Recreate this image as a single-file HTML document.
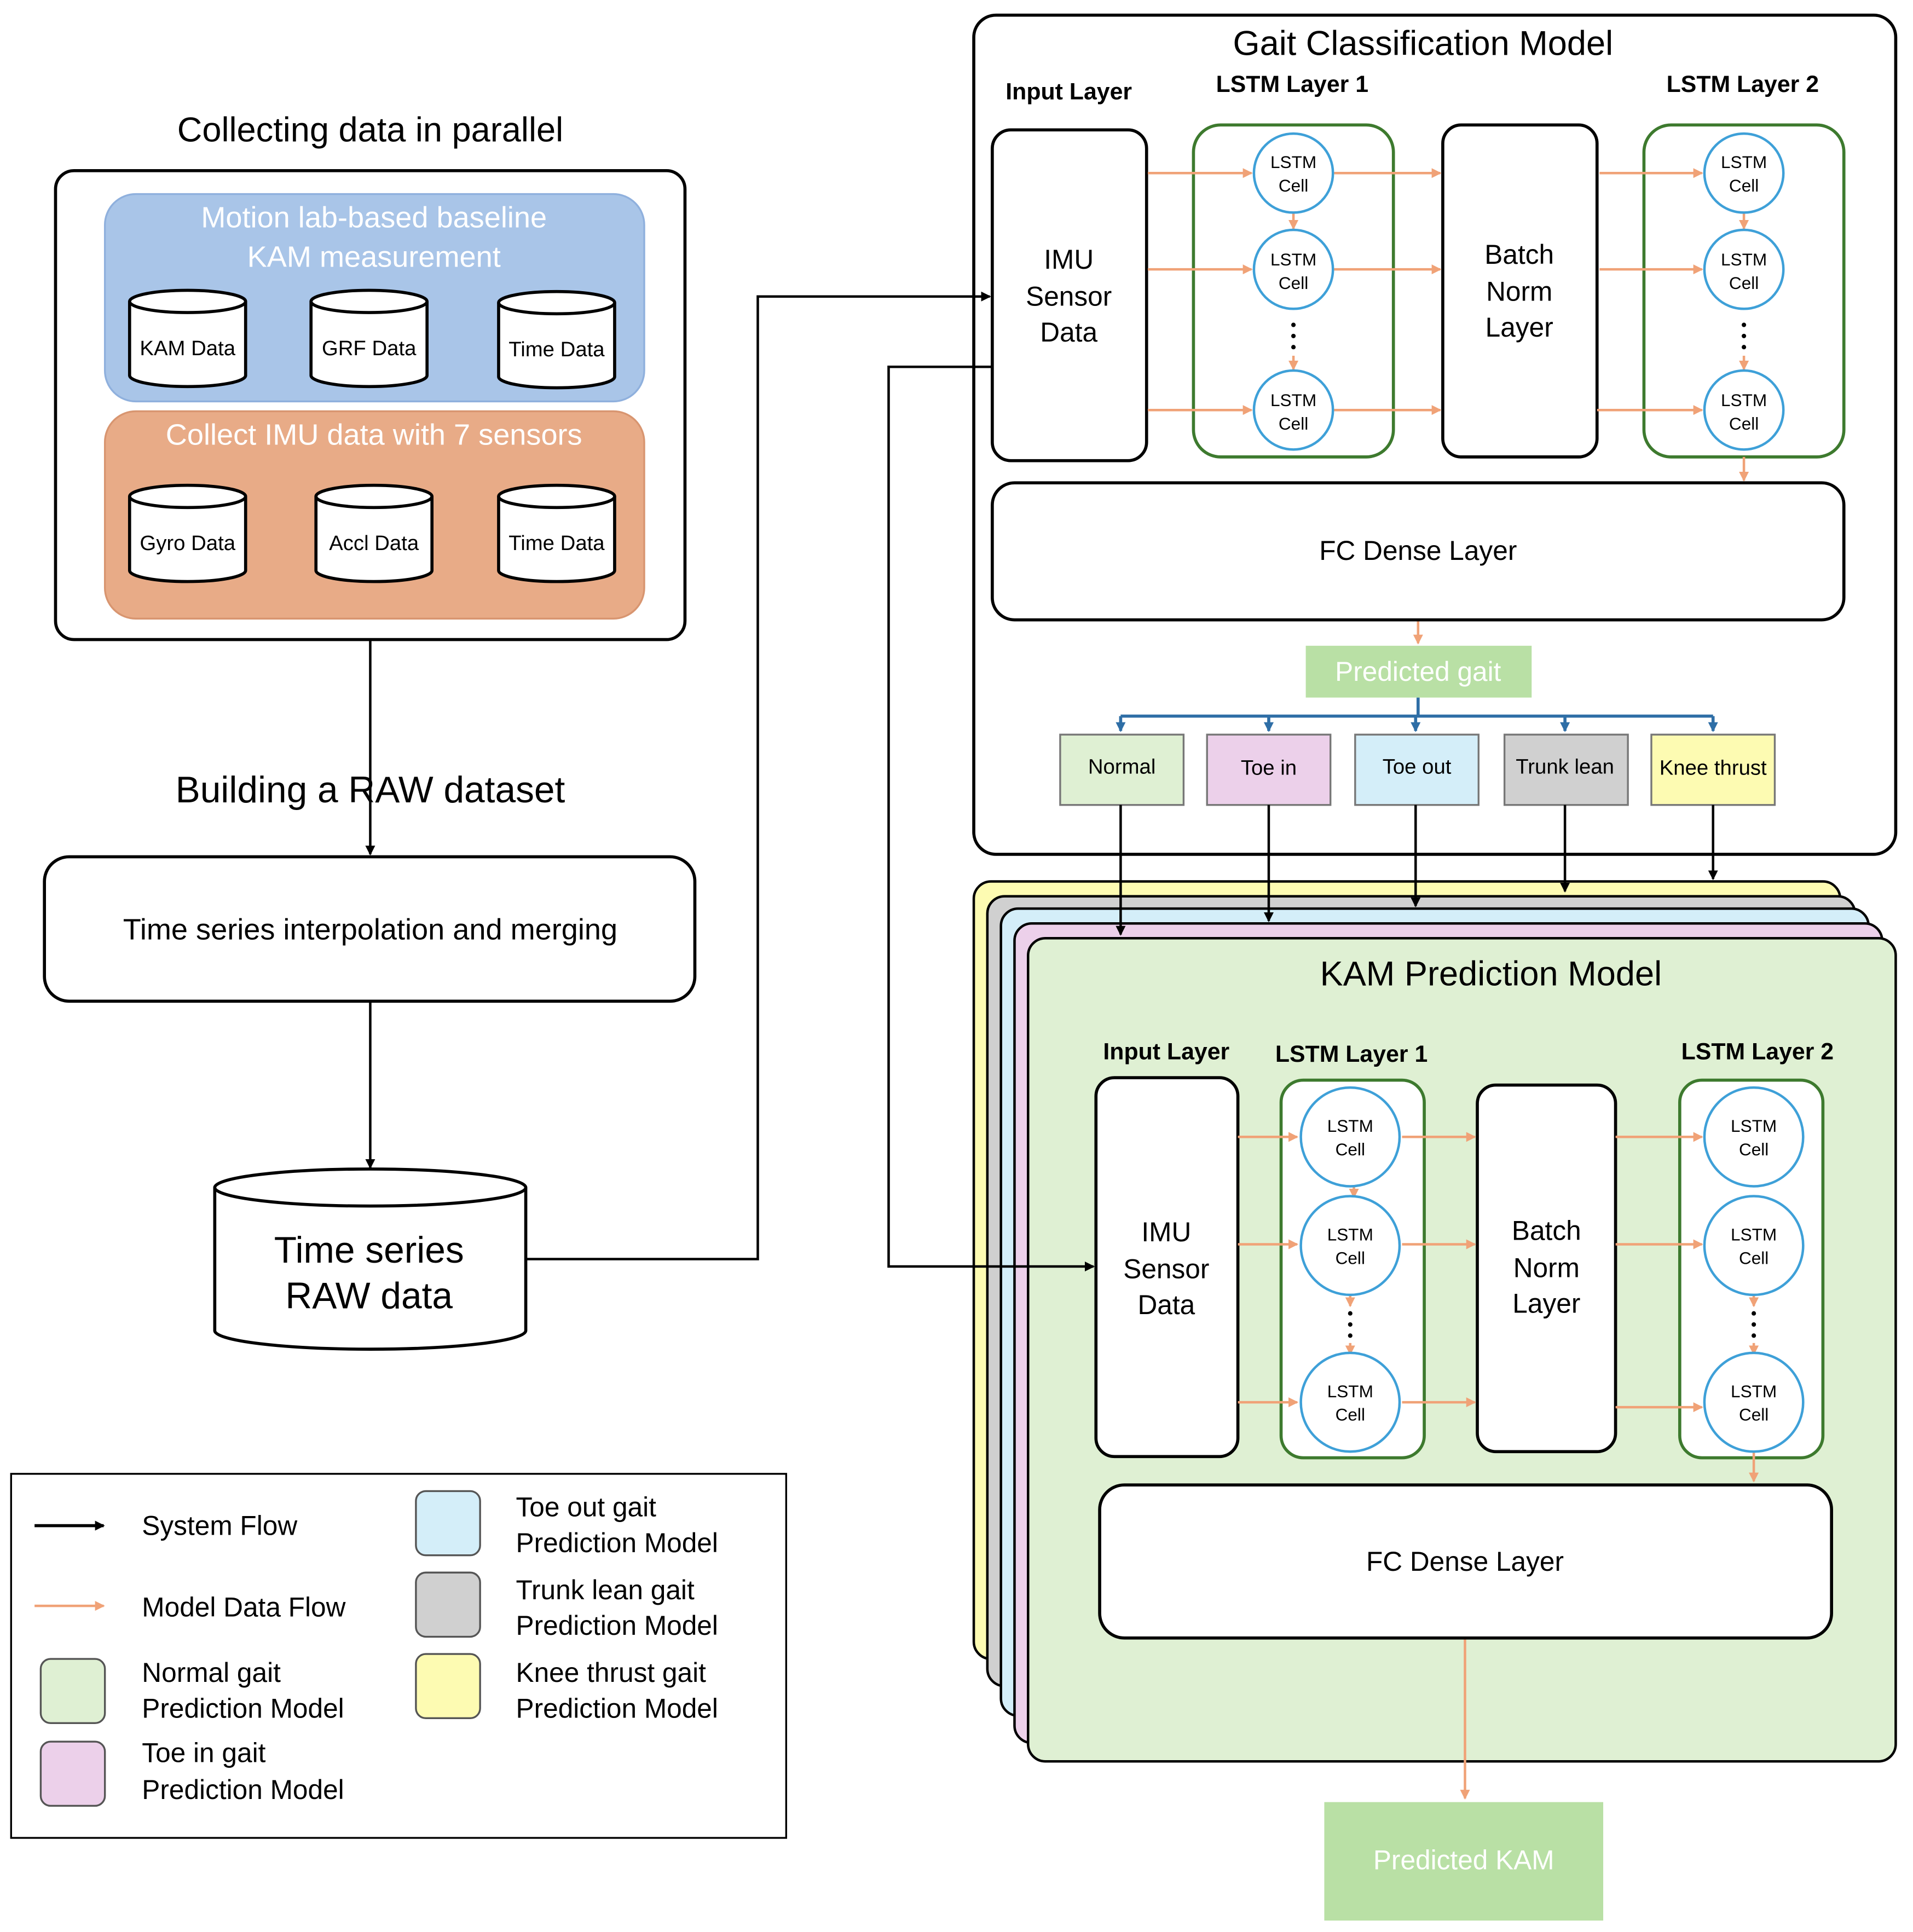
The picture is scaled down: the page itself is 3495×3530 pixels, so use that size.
<!DOCTYPE html>
<html><head><meta charset="utf-8"><style>
html,body{margin:0;padding:0;background:#fff}
svg{display:block}
text{font-family:"Liberation Sans",sans-serif;text-anchor:middle;dominant-baseline:central}
</style></head><body>
<svg width="3495" height="3530" viewBox="0 0 1550 1565" xmlns="http://www.w3.org/2000/svg">
<defs>
<marker id="ab" markerWidth="8" markerHeight="8" refX="7" refY="4" orient="auto" markerUnits="userSpaceOnUse"><path d="M0,0 L8,4 L0,8 z" fill="#000"/></marker>
<marker id="ao" markerWidth="8" markerHeight="8" refX="7" refY="4" orient="auto" markerUnits="userSpaceOnUse"><path d="M0,0 L8,4 L0,8 z" fill="#f0a277"/></marker>
<marker id="abl" markerWidth="8" markerHeight="8" refX="7" refY="4" orient="auto" markerUnits="userSpaceOnUse"><path d="M0,0 L8,4 L0,8 z" fill="#2e6ea6"/></marker>
<g id="cyl"><path d="M-47,-30 L-47,30 A47,9 0 0 0 47,30 L47,-30" fill="#fff" stroke="#000" stroke-width="2.5"/><ellipse cx="0" cy="-30" rx="47" ry="9" fill="#fff" stroke="#000" stroke-width="2.5"/></g>
</defs>

<!-- Left -->
<text x="300" y="105" font-size="28">Collecting data in parallel</text>
<rect x="45" y="138" width="510" height="380" rx="15" fill="#fff" stroke="#000" stroke-width="2.5"/>
<rect x="85" y="157" width="437" height="168" rx="25" fill="#a9c5e8" stroke="#8fb0dd" stroke-width="1.5"/>
<text x="303" y="176" font-size="24" fill="#fff">Motion lab-based baseline</text>
<text x="303" y="208" font-size="24" fill="#fff">KAM measurement</text>
<use href="#cyl" x="152" y="274"/><text x="152" y="282" font-size="17">KAM Data</text>
<use href="#cyl" x="299" y="274"/><text x="299" y="282" font-size="17">GRF Data</text>
<use href="#cyl" x="451" y="275"/><text x="451" y="283" font-size="17">Time Data</text>
<rect x="85" y="333" width="437" height="168" rx="25" fill="#e8ab87" stroke="#d89570" stroke-width="1.5"/>
<text x="303" y="352" font-size="24" fill="#fff">Collect IMU data with 7 sensors</text>
<use href="#cyl" x="152" y="432"/><text x="152" y="440" font-size="17">Gyro Data</text>
<use href="#cyl" x="303" y="432"/><text x="303" y="440" font-size="17">Accl Data</text>
<use href="#cyl" x="451" y="432"/><text x="451" y="440" font-size="17">Time Data</text>

<line x1="300" y1="518" x2="300" y2="692" stroke="#000" stroke-width="2" marker-end="url(#ab)"/>
<text x="300" y="640" font-size="30">Building a RAW dataset</text>
<rect x="36" y="694" width="527" height="117" rx="20" fill="#fff" stroke="#000" stroke-width="2.5"/>
<text x="300" y="753" font-size="24">Time series interpolation and merging</text>
<line x1="300" y1="811" x2="300" y2="946" stroke="#000" stroke-width="2" marker-end="url(#ab)"/>
<path d="M174,962 L174,1078 A126,15 0 0 0 426,1078 L426,962" fill="#fff" stroke="#000" stroke-width="2.5"/>
<ellipse cx="300" cy="962" rx="126" ry="15" fill="#fff" stroke="#000" stroke-width="2.5"/>
<text x="299" y="1013" font-size="30">Time series</text>
<text x="299" y="1050" font-size="30">RAW data</text>

<!-- Legend -->
<rect x="9" y="1194" width="628" height="295" fill="#fff" stroke="#000" stroke-width="1.5"/>
<line x1="28" y1="1236" x2="84" y2="1236" stroke="#000" stroke-width="2.5" marker-end="url(#ab)"/>
<text x="115" y="1236" font-size="22" style="text-anchor:start">System Flow</text>
<line x1="28" y1="1301" x2="84" y2="1301" stroke="#f0a277" stroke-width="2" marker-end="url(#ao)"/>
<text x="115" y="1302" font-size="22" style="text-anchor:start">Model Data Flow</text>
<rect x="33" y="1344" width="52" height="52" rx="8" fill="#dff0d3" stroke="#555" stroke-width="1.5"/>
<text x="115" y="1355" font-size="22" style="text-anchor:start">Normal gait</text>
<text x="115" y="1384" font-size="22" style="text-anchor:start">Prediction Model</text>
<rect x="33" y="1411" width="52" height="52" rx="8" fill="#ecd0ea" stroke="#555" stroke-width="1.5"/>
<text x="115" y="1420" font-size="22" style="text-anchor:start">Toe in gait</text>
<text x="115" y="1450" font-size="22" style="text-anchor:start">Prediction Model</text>
<rect x="337" y="1208" width="52" height="52" rx="8" fill="#d4eef9" stroke="#555" stroke-width="1.5"/>
<text x="418" y="1221" font-size="22" style="text-anchor:start">Toe out gait</text>
<text x="418" y="1250" font-size="22" style="text-anchor:start">Prediction Model</text>
<rect x="337" y="1274" width="52" height="52" rx="8" fill="#d0d0d0" stroke="#555" stroke-width="1.5"/>
<text x="418" y="1288" font-size="22" style="text-anchor:start">Trunk lean gait</text>
<text x="418" y="1317" font-size="22" style="text-anchor:start">Prediction Model</text>
<rect x="337" y="1340" width="52" height="52" rx="8" fill="#fdfbb2" stroke="#555" stroke-width="1.5"/>
<text x="418" y="1355" font-size="22" style="text-anchor:start">Knee thrust gait</text>
<text x="418" y="1384" font-size="22" style="text-anchor:start">Prediction Model</text>

<!-- Gait classification -->
<rect x="789" y="12" width="747" height="680" rx="18" fill="#fff" stroke="#000" stroke-width="2.5"/>
<text x="1153" y="35" font-size="28">Gait Classification Model</text>
<text x="866" y="74" font-size="19" font-weight="bold">Input Layer</text>
<text x="1047" y="68" font-size="19" font-weight="bold">LSTM Layer 1</text>
<text x="1412" y="68" font-size="19" font-weight="bold">LSTM Layer 2</text>
<rect x="804" y="105" width="125" height="268" rx="15" fill="#fff" stroke="#000" stroke-width="2.5"/>
<text x="866" y="210" font-size="22">IMU</text><text x="866" y="240" font-size="22">Sensor</text><text x="866" y="269" font-size="22">Data</text>
<rect x="967" y="101" width="162" height="269" rx="22" fill="#fff" stroke="#3d7a2e" stroke-width="2.5"/>
<rect x="1169" y="101" width="125" height="269" rx="15" fill="#fff" stroke="#000" stroke-width="2.5"/>
<text x="1231" y="206" font-size="22">Batch</text><text x="1231" y="236" font-size="22">Norm</text><text x="1231" y="265" font-size="22">Layer</text>
<rect x="1332" y="101" width="162" height="269" rx="22" fill="#fff" stroke="#3d7a2e" stroke-width="2.5"/>
<g stroke="#f0a277" stroke-width="2" fill="none">
<line x1="930" y1="140" x2="1014" y2="140" marker-end="url(#ao)"/><line x1="930" y1="218" x2="1014" y2="218" marker-end="url(#ao)"/><line x1="930" y1="332" x2="1014" y2="332" marker-end="url(#ao)"/>
<line x1="1081" y1="140" x2="1167" y2="140" marker-end="url(#ao)"/><line x1="1081" y1="218" x2="1167" y2="218" marker-end="url(#ao)"/><line x1="1081" y1="332" x2="1167" y2="332" marker-end="url(#ao)"/>
<line x1="1296" y1="140" x2="1379" y2="140" marker-end="url(#ao)"/><line x1="1296" y1="218" x2="1379" y2="218" marker-end="url(#ao)"/><line x1="1294" y1="332" x2="1379" y2="332" marker-end="url(#ao)"/>
<line x1="1048" y1="172" x2="1048" y2="185" marker-end="url(#ao)"/><line x1="1413" y1="172" x2="1413" y2="185" marker-end="url(#ao)"/>
<line x1="1048" y1="288" x2="1048" y2="299" marker-end="url(#ao)"/><line x1="1413" y1="288" x2="1413" y2="299" marker-end="url(#ao)"/>
<line x1="1413" y1="370" x2="1413" y2="389" marker-end="url(#ao)"/><line x1="1149" y1="503" x2="1149" y2="521" marker-end="url(#ao)"/>
</g>
<g fill="#fff" stroke="#3ea0d8" stroke-width="2">
<circle cx="1048" cy="140" r="32"/><circle cx="1048" cy="218" r="32"/><circle cx="1048" cy="332" r="32"/>
<circle cx="1413" cy="140" r="32"/><circle cx="1413" cy="218" r="32"/><circle cx="1413" cy="332" r="32"/>
</g>
<g font-size="14">
<text x="1048" y="131">LSTM</text><text x="1048" y="150">Cell</text><text x="1048" y="210">LSTM</text><text x="1048" y="229">Cell</text><text x="1048" y="324">LSTM</text><text x="1048" y="343">Cell</text>
<text x="1413" y="131">LSTM</text><text x="1413" y="150">Cell</text><text x="1413" y="210">LSTM</text><text x="1413" y="229">Cell</text><text x="1413" y="324">LSTM</text><text x="1413" y="343">Cell</text>
</g>
<g fill="#000"><circle cx="1048" cy="263" r="1.8"/><circle cx="1048" cy="272" r="1.8"/><circle cx="1048" cy="281" r="1.8"/><circle cx="1413" cy="263" r="1.8"/><circle cx="1413" cy="272" r="1.8"/><circle cx="1413" cy="281" r="1.8"/></g>
<rect x="804" y="391" width="690" height="111" rx="18" fill="#fff" stroke="#000" stroke-width="2.5"/>
<text x="1149" y="446" font-size="22">FC Dense Layer</text>
<rect x="1058" y="523" width="183" height="42" fill="#b9e0a5"/>
<text x="1149" y="544" font-size="22" fill="#fff">Predicted gait</text>
<g stroke="#2e6ea6" stroke-width="2.5" fill="none">
<line x1="1149" y1="565" x2="1149" y2="580"/><line x1="908" y1="580" x2="1388" y2="580"/>
<line x1="908" y1="580" x2="908" y2="592" marker-end="url(#abl)"/><line x1="1028" y1="580" x2="1028" y2="592" marker-end="url(#abl)"/><line x1="1147" y1="580" x2="1147" y2="592" marker-end="url(#abl)"/><line x1="1268" y1="580" x2="1268" y2="592" marker-end="url(#abl)"/><line x1="1388" y1="580" x2="1388" y2="592" marker-end="url(#abl)"/>
</g>
<g stroke="#777" stroke-width="1.5">
<rect x="859" y="595" width="100" height="57" fill="#dff0d3"/><rect x="978" y="595" width="100" height="57" fill="#ecd0ea"/><rect x="1098" y="595" width="100" height="57" fill="#d4eef9"/><rect x="1219" y="595" width="100" height="57" fill="#d0d0d0"/><rect x="1338" y="595" width="100" height="57" fill="#fdfbb2"/>
</g>
<g font-size="17"><text x="909" y="621">Normal</text><text x="1028" y="622">Toe in</text><text x="1148" y="621">Toe out</text><text x="1268" y="621">Trunk lean</text><text x="1388" y="622">Knee thrust</text></g>

<!-- Stacked KAM models -->
<rect x="789" y="714" width="702" height="630" rx="14" fill="#fdfbb2" stroke="#000" stroke-width="2"/>
<rect x="800" y="726" width="703" height="640" rx="14" fill="#d0d0d0" stroke="#000" stroke-width="2"/>
<rect x="811" y="736" width="703" height="654" rx="14" fill="#d4eef9" stroke="#000" stroke-width="2"/>
<rect x="822" y="748" width="703" height="664" rx="14" fill="#ecd0ea" stroke="#000" stroke-width="2"/>
<rect x="833" y="760" width="703" height="667" rx="14" fill="#dff0d3" stroke="#000" stroke-width="2"/>
<g stroke="#000" stroke-width="2">
<line x1="908" y1="652" x2="908" y2="757" marker-end="url(#ab)"/><line x1="1028" y1="652" x2="1028" y2="746" marker-end="url(#ab)"/><line x1="1147" y1="652" x2="1147" y2="734" marker-end="url(#ab)"/><line x1="1268" y1="652" x2="1268" y2="722" marker-end="url(#ab)"/><line x1="1388" y1="652" x2="1388" y2="712" marker-end="url(#ab)"/>
</g>
<text x="1208" y="789" font-size="28">KAM Prediction Model</text>
<text x="945" y="852" font-size="19" font-weight="bold">Input Layer</text>
<text x="1095" y="854" font-size="19" font-weight="bold">LSTM Layer 1</text>
<text x="1424" y="852" font-size="19" font-weight="bold">LSTM Layer 2</text>
<rect x="888" y="873" width="115" height="307" rx="15" fill="#fff" stroke="#000" stroke-width="2.5"/>
<text x="945" y="998" font-size="22">IMU</text><text x="945" y="1028" font-size="22">Sensor</text><text x="945" y="1057" font-size="22">Data</text>
<rect x="1038" y="875" width="116" height="306" rx="18" fill="#fff" stroke="#3d7a2e" stroke-width="2.5"/>
<rect x="1197" y="879" width="112" height="297" rx="15" fill="#fff" stroke="#000" stroke-width="2.5"/>
<text x="1253" y="997" font-size="22">Batch</text><text x="1253" y="1027" font-size="22">Norm</text><text x="1253" y="1056" font-size="22">Layer</text>
<rect x="1361" y="875" width="116" height="306" rx="18" fill="#fff" stroke="#3d7a2e" stroke-width="2.5"/>
<g stroke="#f0a277" stroke-width="2" fill="none">
<line x1="1003" y1="921" x2="1051" y2="921" marker-end="url(#ao)"/><line x1="1003" y1="1008" x2="1051" y2="1008" marker-end="url(#ao)"/><line x1="1003" y1="1136" x2="1051" y2="1136" marker-end="url(#ao)"/>
<line x1="1136" y1="921" x2="1195" y2="921" marker-end="url(#ao)"/><line x1="1136" y1="1008" x2="1195" y2="1008" marker-end="url(#ao)"/><line x1="1136" y1="1136" x2="1195" y2="1136" marker-end="url(#ao)"/>
<line x1="1309" y1="921" x2="1379" y2="921" marker-end="url(#ao)"/><line x1="1309" y1="1008" x2="1379" y2="1008" marker-end="url(#ao)"/><line x1="1309" y1="1140" x2="1379" y2="1140" marker-end="url(#ao)"/>
<line x1="1097" y1="960" x2="1097" y2="970" marker-end="url(#ao)"/>
<line x1="1094" y1="1049" x2="1094" y2="1058" marker-end="url(#ao)"/><line x1="1094" y1="1088" x2="1094" y2="1097" marker-end="url(#ao)"/>
<line x1="1421" y1="1049" x2="1421" y2="1058" marker-end="url(#ao)"/><line x1="1421" y1="1088" x2="1421" y2="1097" marker-end="url(#ao)"/>
<line x1="1421" y1="1177" x2="1421" y2="1200" marker-end="url(#ao)"/><line x1="1187" y1="1327" x2="1187" y2="1457" marker-end="url(#ao)"/>
</g>
<g fill="#fff" stroke="#3ea0d8" stroke-width="2">
<circle cx="1094" cy="921" r="40"/><circle cx="1094" cy="1009" r="40"/><circle cx="1094" cy="1136" r="40"/>
<circle cx="1421" cy="921" r="40"/><circle cx="1421" cy="1009" r="40"/><circle cx="1421" cy="1136" r="40"/>
</g>
<g font-size="14">
<text x="1094" y="912">LSTM</text><text x="1094" y="931">Cell</text><text x="1094" y="1000">LSTM</text><text x="1094" y="1019">Cell</text><text x="1094" y="1127">LSTM</text><text x="1094" y="1146">Cell</text>
<text x="1421" y="912">LSTM</text><text x="1421" y="931">Cell</text><text x="1421" y="1000">LSTM</text><text x="1421" y="1019">Cell</text><text x="1421" y="1127">LSTM</text><text x="1421" y="1146">Cell</text>
</g>
<g fill="#000"><circle cx="1094" cy="1064" r="1.8"/><circle cx="1094" cy="1073" r="1.8"/><circle cx="1094" cy="1082" r="1.8"/><circle cx="1421" cy="1064" r="1.8"/><circle cx="1421" cy="1073" r="1.8"/><circle cx="1421" cy="1082" r="1.8"/></g>
<rect x="891" y="1203" width="593" height="124" rx="20" fill="#fff" stroke="#000" stroke-width="2.5"/>
<text x="1187" y="1265" font-size="22">FC Dense Layer</text>
<rect x="1073" y="1460" width="226" height="96" fill="#b9e0a5"/>
<text x="1186" y="1507" font-size="22" fill="#fff">Predicted KAM</text>

<!-- System flow connectors on top -->
<polyline points="426,1020 614,1020 614,240 802,240" fill="none" stroke="#000" stroke-width="2" marker-end="url(#ab)"/>
<polyline points="804,297 720,297 720,1026 886,1026" fill="none" stroke="#000" stroke-width="2" marker-end="url(#ab)"/>
</svg>
</body></html>
